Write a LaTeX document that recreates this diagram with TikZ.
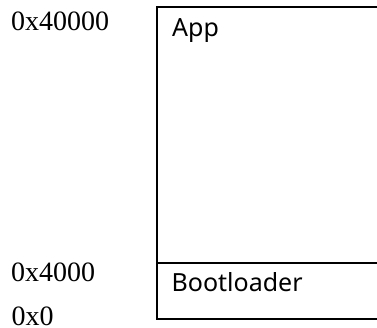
\documentclass[tikz,border=0pt]{standalone}
\usepackage{fontspec}
\usepackage{tkz-euclide}
\setmainfont{Liberation Serif}
\newfontfamily\regionfont{Noto Sans}
\tikzset{
  addr/.style={anchor=base west,inner sep=0pt,font=\fontsize{28}{28}\selectfont},
  region/.style={anchor=base west,inner sep=0pt,font=\regionfont\fontsize{25}{25}\selectfont}
}
\begin{document}
\begin{tikzpicture}[x=1pt,y=-1pt]
            \useasboundingbox (0,0) rectangle (377,327);
            \tkzDefPoint(377,7){A}
            \tkzDefPoint(157,7){B}
            \tkzDefPoint(157,319){C}
            \tkzDefPoint(377,319){D}
            \tkzDefPoint(157,263){E}
            \tkzDefPoint(377,263){F}
            \tkzDrawPolySeg[line width=2pt,color=black](A,B,C,D)
            \tkzDrawSegment[line width=2pt,color=black](E,F)
            \node[addr] (high) at (11,30.5) {0x40000};
            \node[addr] (mid) at (11,281.5) {0x4000};
            \node[addr] (low) at (11.5,325.5) {0x0};
            \node[region] (app) at (172,36.5) {App};
            \node[region] (boot) at (171.5,291.5) {Bootloader};
        \end{tikzpicture}
\end{document}
